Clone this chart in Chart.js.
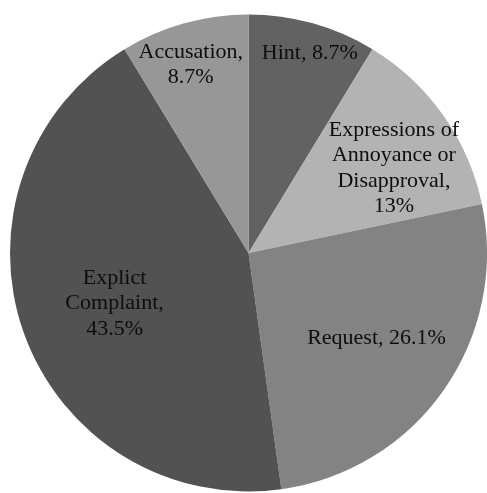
<!DOCTYPE html>
<html>
<head>
<meta charset="utf-8">
<script src="https://cdn.jsdelivr.net/npm/chart.js@4/dist/chart.umd.min.js"></script>
<style>
  html, body { margin: 0; padding: 0; background: #fff; }
  #wrap { width: 487px; height: 493px; position: relative; }
</style>
</head>
<body>
<div id="wrap"><canvas id="pie"></canvas></div>
<script>
// complaint strategies, clockwise from 12 o'clock
const categories = ['Hint', 'Expressions of Annoyance or Disapproval', 'Request', 'Explict Complaint', 'Accusation'];
const shares = [8.7, 13, 26.1, 43.5, 8.7];
const sliceColors = ['#626262', '#b3b3b3', '#838383', '#525252', '#979797'];

// label placement: fraction of radius, small turn in degrees, wrap width in px
const labelRadius = [0.876, 0.706, 0.645, 0.60, 0.825];
const labelTurn = [1.4, 5, -1.4, -1, -1.4];
const labelWrap = [120, 140, 170, 110, 120];

const FONT = '22px "Liberation Serif"';
const LINE_H = 25.5;

function wrapText(ctx, text, maxWidth) {
  const words = text.split(' ');
  const lines = [];
  let cur = '';
  words.forEach(w => {
    const test = cur ? cur + ' ' + w : w;
    if (cur && ctx.measureText(test).width > maxWidth) {
      lines.push(cur);
      cur = w;
    } else {
      cur = test;
    }
  });
  if (cur) lines.push(cur);
  return lines;
}

// draws "Name, value%" inside each slice
const sliceLabels = {
  id: 'sliceLabels',
  afterDatasetsDraw(chart) {
    const ctx = chart.ctx;
    const meta = chart.getDatasetMeta(0);
    ctx.save();
    ctx.font = FONT;
    ctx.fillStyle = '#0d0d0d';
    ctx.textAlign = 'center';
    ctx.textBaseline = 'middle';
    meta.data.forEach((arc, i) => {
      const p = arc.getProps(['x', 'y', 'startAngle', 'endAngle', 'outerRadius'], true);
      const mid = (p.startAngle + p.endAngle) / 2 + labelTurn[i] * Math.PI / 180;
      const r = p.outerRadius * labelRadius[i];
      const cx = p.x + Math.cos(mid) * r;
      const cy = p.y + Math.sin(mid) * r;
      const text = categories[i] + ', ' + shares[i] + '%';
      const lines = wrapText(ctx, text, labelWrap[i]);
      const top = cy - (lines.length - 1) * LINE_H / 2;
      lines.forEach((ln, k) => ctx.fillText(ln, cx, top + k * LINE_H));
    });
    ctx.restore();
  }
};

function draw() {
  new Chart(document.getElementById('pie'), {
    type: 'pie',
    data: {
      labels: categories,
      datasets: [{
        data: shares,
        backgroundColor: sliceColors,
        borderWidth: 0
      }]
    },
    options: {
      responsive: true,
      maintainAspectRatio: false,
      animation: false,
      layout: { padding: { left: 10, right: 0, top: 14, bottom: 1 } },
      plugins: {
        legend: { display: false },
        tooltip: { enabled: false }
      }
    },
    plugins: [sliceLabels]
  });
}

document.fonts.load(FONT).then(draw, draw);
</script>
</body>
</html>
